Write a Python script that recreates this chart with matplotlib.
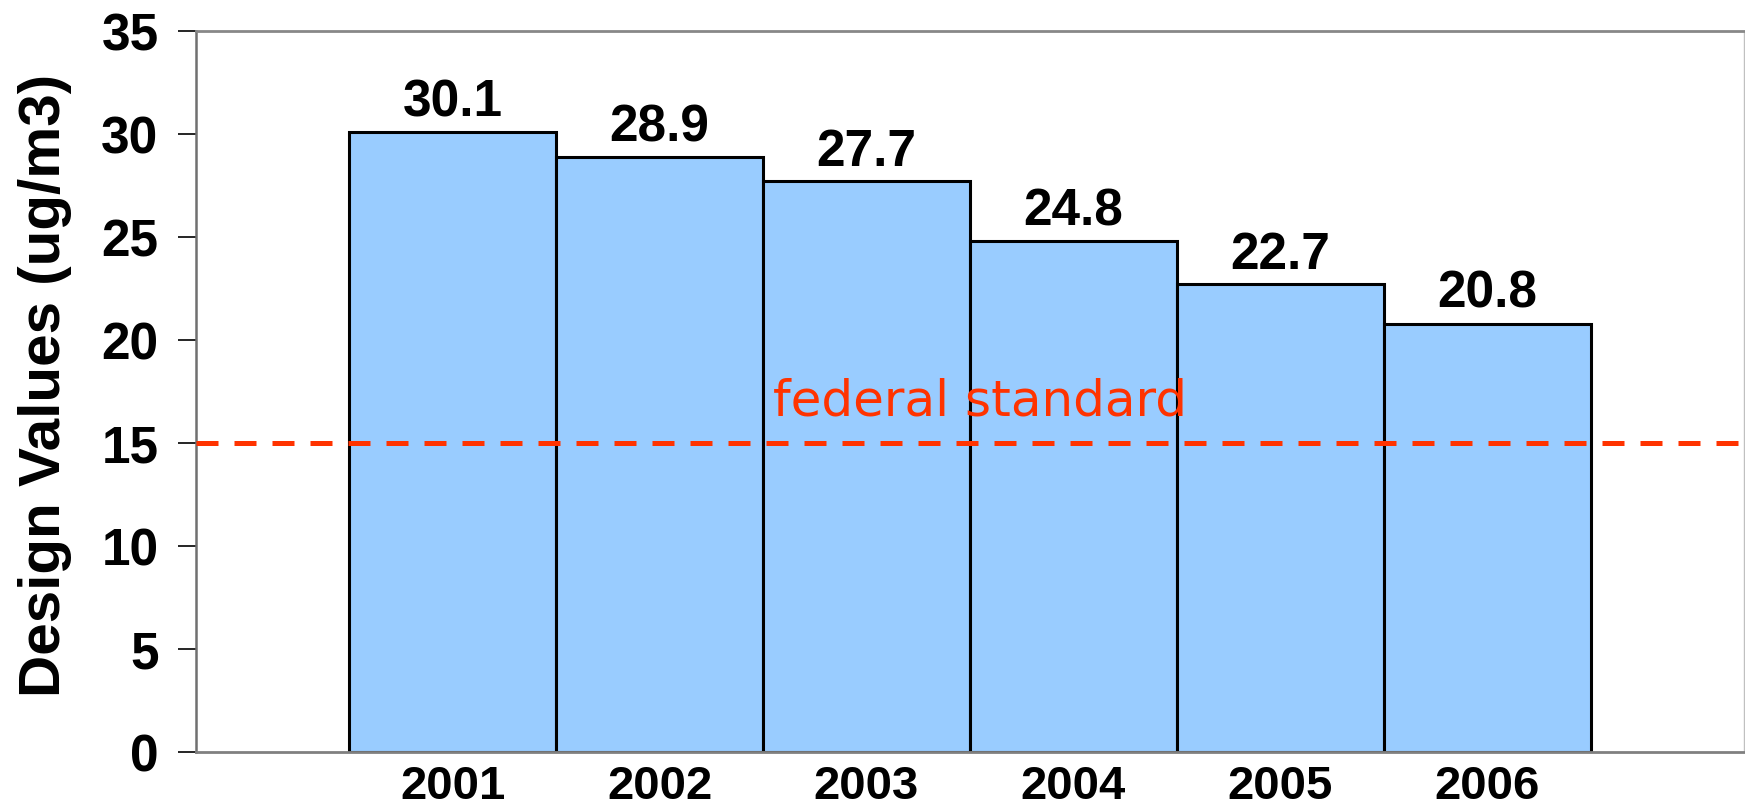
import numpy as np
import matplotlib.pyplot as plt

# Design values per year
years = ['2001', '2002', '2003', '2004', '2005', '2006']
design_values = [30.1, 28.9, 27.7, 24.8, 22.7, 20.8]
standard = 15
y_ticks = [0, 5, 10, 15, 20, 25, 30, 35]

plt.rcParams['font.family'] = ['Liberation Sans', 'DejaVu Sans']

fig = plt.figure(figsize=(17.45, 8.12), dpi=100)
ax = fig.add_axes([0.1123, 0.0727, 0.8871, 0.8879])

x = np.arange(len(years))
bars = ax.bar(x, design_values, width=1.0, color='#99CCFF',
              edgecolor='black', linewidth=2.2, zorder=2)

# value labels on top of the bars
for xi, v in zip(x, design_values):
    ax.annotate(f'{v:.1f}', (xi, v), xytext=(0, 4), textcoords='offset points',
                ha='center', va='bottom', fontsize=37, fontweight='bold')

# federal standard line
ax.axhline(standard, color='#FF3300', linewidth=3.6,
           linestyle=(0, (4.4, 3.2)), zorder=3)
ax.text(1.55, 16.4, 'federal standard', color='#FF3300', fontsize=36,
        family='DejaVu Sans', ha='left', va='baseline', zorder=4)

ax.set_xlim(-1.24, 6.24)
ax.set_ylim(0, 35)
ax.set_yticks(y_ticks)
ax.set_xticks(x)
ax.set_xticklabels(years)

ax.tick_params(axis='x', length=0, pad=9, labelsize=34)
ax.tick_params(axis='y', length=13, width=1.2, pad=14, labelsize=37)
for lbl in ax.get_xticklabels() + ax.get_yticklabels():
    lbl.set_fontweight('bold')

ax.set_ylabel('Design Values (ug/m3)', fontsize=42, fontweight='bold')
ax.yaxis.set_label_coords(-0.08, 0.51)

ax.spines['left'].set_color('#707070')
ax.spines['left'].set_linewidth(1.8)
ax.spines['bottom'].set_color('#808080')
ax.spines['bottom'].set_linewidth(2)
ax.spines['top'].set_color('#888888')
ax.spines['top'].set_linewidth(2)
ax.spines['right'].set_color('#C0C0C0')
ax.spines['right'].set_linewidth(1)

fig.savefig('out.png', dpi=100)
